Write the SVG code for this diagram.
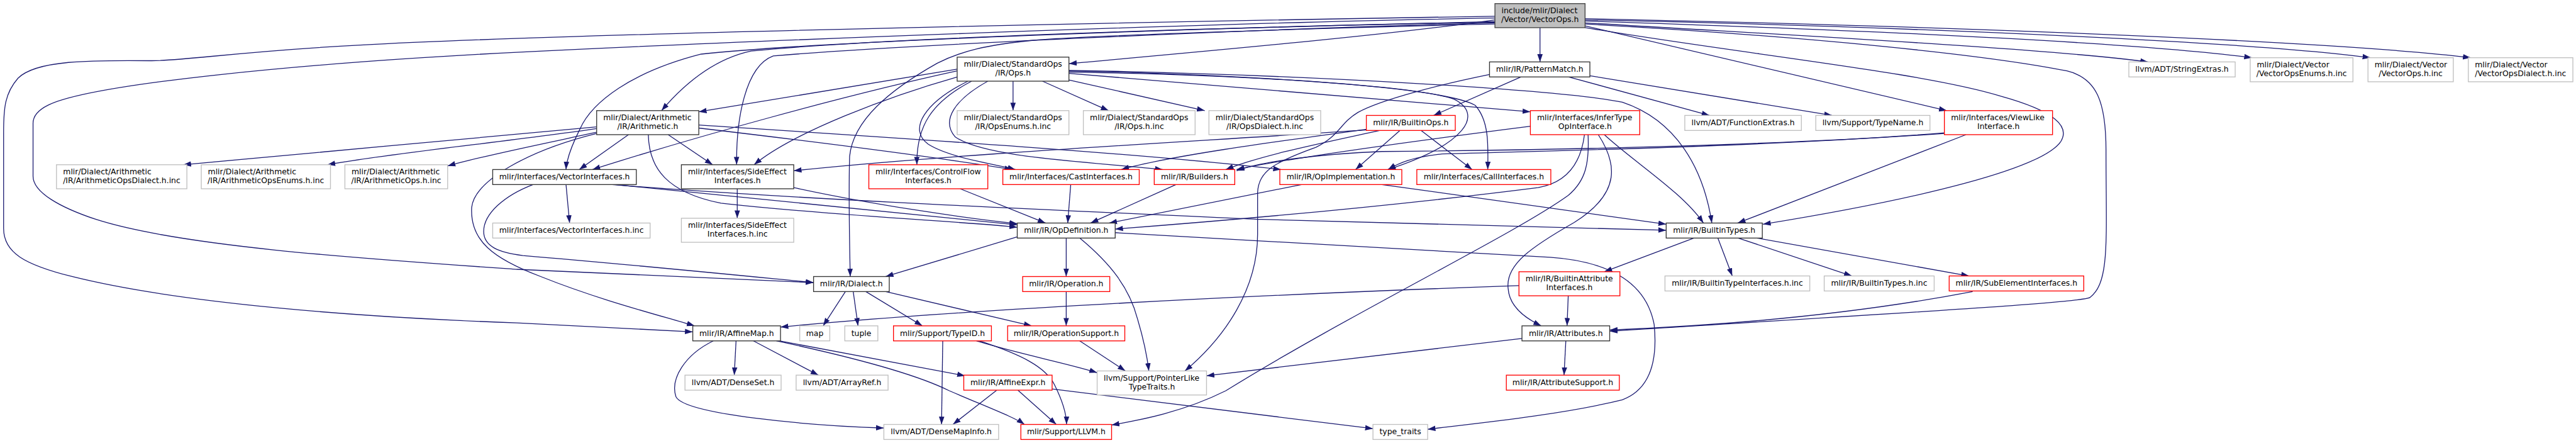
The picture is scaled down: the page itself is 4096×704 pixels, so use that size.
<svg xmlns="http://www.w3.org/2000/svg" width="4096" height="704" viewBox="0 0 4096 704">
<defs>
<style>
.n rect{fill:#fff;stroke-width:1.4}
.k rect{stroke:#333}
.r rect{stroke:#ff0000}
.g rect{stroke:#bfbfbf}
.t rect{fill:#bfbfbf;stroke:#404040}
text{font-family:"DejaVu Sans","Liberation Sans",sans-serif;font-size:13px;fill:#000}
.m{text-anchor:middle}
#edges path{fill:none;stroke:#191970;stroke-width:1.35;marker-end:url(#a)}
</style>
<marker id="a" markerUnits="userSpaceOnUse" markerWidth="14" markerHeight="10" refX="13" refY="5" orient="auto"><path d="M0,0.5 L13,5 L0,9.5 z" fill="#191970"/></marker>
</defs>
<rect width="4096" height="704" fill="#fff"/>
<g transform="scale(0.9554)">
<g id="edges">
<path d="M2488,33 C2300,60 1950,90 1779,106"/>
<path d="M2563,46 L2563,103"/>
<path d="M2638,38 C3000,60 3400,80 3575,103"/>
<path d="M2638,35 C3100,50 3550,70 3748,96"/>
<path d="M2638,33 C3200,45 3750,70 3945,96"/>
<path d="M2638,31 C3300,45 3900,70 4112,96"/>
<path d="M2638,43 L3240,184"/>
<path d="M2638,40 C3000,60 3300,90 3440,118 C3490,130 3505,170 3505,250 C3505,400 3512,470 3478,495 C3460,505 3000,530 2679,551"/>
<path d="M2638,46 C2900,90 3200,120 3330,160 C3420,185 3445,210 3430,235 C3400,280 3200,330 2934,373"/>
<path d="M2488,36 C2100,45 1500,60 1250,85 C1180,100 1130,150 1101,184"/>
<path d="M2488,37 C2000,45 1350,70 1167,90 C1050,120 985,170 965,215 C950,245 943,265 942,282"/>
<path d="M2488,38 C2100,48 1500,75 1287,93 C1240,110 1225,200 1226,274"/>
<path d="M2488,27 C1800,38 900,58 600,75 C400,85 300,102 250,101 C150,100 60,100 30,130 C8,155 6,180 6,220 L6,380 C6,420 40,440 120,460 C300,505 600,528 860,537 L1153,552"/>
<path d="M2488,30 C2000,38 1200,70 860,87 C500,105 150,140 80,175 C60,185 55,195 55,205 L55,293 C55,320 100,345 160,365 C300,410 600,430 860,448 L1354,470"/>
<path d="M2488,40 C2150,48 1800,60 1720,67 C1640,75 1600,85 1560,105 C1480,150 1420,200 1414,260 C1412,330 1414,400 1415,460"/>
<path d="M1593,115 L1163,186"/>
<path d="M1593,118 C1400,160 1150,230 986,282"/>
<path d="M1593,128 C1480,160 1320,220 1255,274"/>
<path d="M1617,135 C1550,170 1525,210 1526,274"/>
<path d="M1611,135 C1540,170 1510,215 1545,240 C1580,262 1650,272 1690,282"/>
<path d="M1644,135 C1590,165 1565,200 1590,228 C1640,262 1800,268 1935,282"/>
<path d="M1686,135 L1686,184"/>
<path d="M1735,135 L1845,184"/>
<path d="M1779,133 L2005,184"/>
<path d="M1779,118 C2000,122 2350,140 2420,165 C2470,190 2440,240 2310,282"/>
<path d="M1779,120 C2100,125 2400,145 2455,175 C2478,200 2477,240 2476,282"/>
<path d="M1779,122 L2547,186"/>
<path d="M1779,117 C2200,125 2600,150 2700,170 C2790,200 2835,280 2849,371"/>
<path d="M993,211 C800,230 500,255 305,274"/>
<path d="M993,214 C850,235 650,255 545,274"/>
<path d="M993,220 C900,240 800,260 745,276"/>
<path d="M1046,224 L964,282"/>
<path d="M1112,224 L1186,274"/>
<path d="M1163,213 C1350,235 1550,260 1685,282"/>
<path d="M1163,208 C1500,230 1900,255 2132,282"/>
<path d="M1079,224 C1080,280 1110,320 1200,338 C1400,360 1600,368 1693,378"/>
<path d="M993,222 C880,250 790,300 785,345 C782,400 820,430 900,460 C1000,500 1100,525 1156,542"/>
<path d="M942,307 L948,371"/>
<path d="M887,307 C840,325 805,355 805,385 C805,410 830,420 870,425 C1050,440 1250,460 1354,470"/>
<path d="M1024,307 C1300,335 1550,360 1693,374"/>
<path d="M1019,307 C1300,330 1720,348 2100,365 C2400,374 2600,378 2773,383"/>
<path d="M1227,314 L1227,363"/>
<path d="M1321,312 C1450,340 1600,362 1693,372"/>
<path d="M1598,314 L1740,371"/>
<path d="M1782,307 L1777,371"/>
<path d="M1957,307 L1815,371"/>
<path d="M2166,307 L1846,371"/>
<path d="M2300,307 L2773,373"/>
<path d="M2330,217 L2256,282"/>
<path d="M2365,217 L2450,282"/>
<path d="M2275,215 C2150,232 1950,258 1866,282"/>
<path d="M2275,216 C2000,235 1600,255 1321,284"/>
<path d="M2296,217 C2200,238 2100,258 2040,282"/>
<path d="M2531,128 L2386,192"/>
<path d="M2611,128 L2845,192"/>
<path d="M2646,126 L3049,192"/>
<path d="M2479,124 C2400,140 2300,165 2260,187 C2230,205 2230,225 2190,245 C2120,270 2095,285 2093,320 L2093,390 C2093,480 2040,560 1972,617"/>
<path d="M2547,210 C2350,235 2150,262 2058,282"/>
<path d="M2637,224 C2630,280 2600,305 2560,312 C2300,345 2000,370 1856,381"/>
<path d="M2643,224 C2645,270 2640,300 2610,325 C2520,390 2250,520 2040,650 C1970,685 1900,698 1850,707"/>
<path d="M2660,224 C2690,270 2700,320 2620,370 C2550,410 2505,440 2510,480 C2512,510 2540,530 2565,542"/>
<path d="M2670,224 C2720,270 2800,320 2835,371"/>
<path d="M3236,221 C3000,240 2600,250 2300,252 C2200,256 2100,268 2058,284"/>
<path d="M3236,222 C2900,245 2600,250 2400,256 C2350,262 2330,270 2310,282"/>
<path d="M3272,224 L2892,371"/>
<path d="M2819,396 L2670,452"/>
<path d="M2859,396 L2883,459"/>
<path d="M2893,396 L3082,459"/>
<path d="M2924,396 L3277,459"/>
<path d="M2610,492 L2608,542"/>
<path d="M2528,475 C2100,490 1600,515 1299,544"/>
<path d="M3283,485 C3100,520 2900,540 2679,549"/>
<path d="M2606,567 L2603,624"/>
<path d="M2533,563 L2008,625"/>
<path d="M1774.5,396 L1774.5,460"/>
<path d="M1693,394 L1474,460"/>
<path d="M1797,396 C1850,440 1880,480 1893,530 C1905,570 1910,600 1912,617"/>
<path d="M1856,387 C2150,405 2450,420 2580,428 C2680,435 2740,470 2753,540 C2760,610 2740,650 2700,665 C2600,690 2450,705 2376,714"/>
<path d="M1774.5,485 L1774.5,542"/>
<path d="M1407,485 L1370,542"/>
<path d="M1420,485 L1428,542"/>
<path d="M1441,485 L1535,542"/>
<path d="M1474,485 L1717,542"/>
<path d="M1225,567 L1222,624"/>
<path d="M1254,567 L1362,624"/>
<path d="M1297,567 L1606,625"/>
<path d="M1187,567 C1140,590 1115,630 1125,660 C1140,690 1350,708 1471,712"/>
<path d="M1292,567 C1400,590 1520,620 1580,650 C1650,680 1690,695 1705,706"/>
<path d="M1569,567 L1567,706"/>
<path d="M1625,567 C1700,590 1780,605 1826,620"/>
<path d="M1630,567 C1700,590 1740,610 1755,640 C1770,670 1775,690 1775,706"/>
<path d="M1659,649 L1586,706"/>
<path d="M1694,649 L1758,706"/>
<path d="M1751,647 L2285,713"/>
<path d="M1797,567 L1873,617"/>
</g>
<g id="n_top" class="n t"><rect x="2488" y="6" width="150" height="40"/><text x="2499" y="22">include/mlir/Dialect</text><text class="m" x="2563" y="36.5">/Vector/VectorOps.h</text></g>
<g id="n_ops" class="n k"><rect x="1593" y="95" width="186" height="40"/><text x="1604" y="111">mlir/Dialect/StandardOps</text><text class="m" x="1686" y="125.5">/IR/Ops.h</text></g>
<g id="n_pattern" class="n k"><rect x="2479" y="103" width="167" height="25"/><text class="m" x="2562.5" y="119.5">mlir/IR/PatternMatch.h</text></g>
<g id="n_stringextras" class="n g"><rect x="3543" y="103" width="177" height="25"/><text class="m" x="3631.5" y="119.5">llvm/ADT/StringExtras.h</text></g>
<g id="n_vecenums" class="n g"><rect x="3745" y="96" width="171" height="40"/><text x="3756" y="112">mlir/Dialect/Vector</text><text class="m" x="3830.5" y="126.5">/VectorOpsEnums.h.inc</text></g>
<g id="n_vecopsinc" class="n g"><rect x="3941" y="96" width="142" height="40"/><text x="3952" y="112">mlir/Dialect/Vector</text><text class="m" x="4012" y="126.5">/VectorOps.h.inc</text></g>
<g id="n_vecdialect" class="n g"><rect x="4108" y="96" width="174" height="40"/><text x="4119" y="112">mlir/Dialect/Vector</text><text class="m" x="4195" y="126.5">/VectorOpsDialect.h.inc</text></g>
<g id="n_arith" class="n k"><rect x="993" y="184" width="170" height="40"/><text x="1004" y="200">mlir/Dialect/Arithmetic</text><text class="m" x="1078" y="214.5">/IR/Arithmetic.h</text></g>
<g id="n_opsenums" class="n g"><rect x="1593" y="184" width="186" height="40"/><text x="1604" y="200">mlir/Dialect/StandardOps</text><text class="m" x="1686" y="214.5">/IR/OpsEnums.h.inc</text></g>
<g id="n_opsinc" class="n g"><rect x="1803" y="184" width="186" height="40"/><text x="1814" y="200">mlir/Dialect/StandardOps</text><text class="m" x="1896" y="214.5">/IR/Ops.h.inc</text></g>
<g id="n_opsdialect" class="n g"><rect x="2012" y="184" width="186" height="40"/><text x="2023" y="200">mlir/Dialect/StandardOps</text><text class="m" x="2105" y="214.5">/IR/OpsDialect.h.inc</text></g>
<g id="n_builtinops" class="n r"><rect x="2274" y="192" width="148" height="25"/><text class="m" x="2348" y="208.5">mlir/IR/BuiltinOps.h</text></g>
<g id="n_infer" class="n r"><rect x="2547" y="184" width="182" height="40"/><text x="2558" y="200">mlir/Interfaces/InferType</text><text class="m" x="2638" y="214.5">OpInterface.h</text></g>
<g id="n_funcextras" class="n g"><rect x="2804" y="192" width="194" height="25"/><text class="m" x="2901" y="208.5">llvm/ADT/FunctionExtras.h</text></g>
<g id="n_typename" class="n g"><rect x="3022" y="192" width="190" height="25"/><text class="m" x="3117" y="208.5">llvm/Support/TypeName.h</text></g>
<g id="n_viewlike" class="n r"><rect x="3236" y="184" width="180" height="40"/><text x="3247" y="200">mlir/Interfaces/ViewLike</text><text class="m" x="3326" y="214.5">Interface.h</text></g>
<g id="n_arithdialectinc" class="n g"><rect x="94" y="274" width="217" height="40"/><text x="105" y="290">mlir/Dialect/Arithmetic</text><text class="m" x="202.5" y="304.5">/IR/ArithmeticOpsDialect.h.inc</text></g>
<g id="n_arithenumsinc" class="n g"><rect x="335" y="274" width="215" height="40"/><text x="346" y="290">mlir/Dialect/Arithmetic</text><text class="m" x="442.5" y="304.5">/IR/ArithmeticOpsEnums.h.inc</text></g>
<g id="n_arithopsinc" class="n g"><rect x="574" y="274" width="171" height="40"/><text x="585" y="290">mlir/Dialect/Arithmetic</text><text class="m" x="659.5" y="304.5">/IR/ArithmeticOps.h.inc</text></g>
<g id="n_vecif" class="n k"><rect x="820" y="282" width="239" height="25"/><text class="m" x="939.5" y="298.5">mlir/Interfaces/VectorInterfaces.h</text></g>
<g id="n_sideeffect" class="n k"><rect x="1134" y="274" width="187" height="40"/><text x="1145" y="290">mlir/Interfaces/SideEffect</text><text class="m" x="1227.5" y="304.5">Interfaces.h</text></g>
<g id="n_controlflow" class="n r"><rect x="1446" y="274" width="198" height="40"/><text x="1457" y="290">mlir/Interfaces/ControlFlow</text><text class="m" x="1545" y="304.5">Interfaces.h</text></g>
<g id="n_cast" class="n r"><rect x="1669" y="282" width="227" height="25"/><text class="m" x="1782.5" y="298.5">mlir/Interfaces/CastInterfaces.h</text></g>
<g id="n_builders" class="n r"><rect x="1921" y="282" width="134" height="25"/><text class="m" x="1988" y="298.5">mlir/IR/Builders.h</text></g>
<g id="n_opimpl" class="n r"><rect x="2130" y="282" width="203" height="25"/><text class="m" x="2231.5" y="298.5">mlir/IR/OpImplementation.h</text></g>
<g id="n_call" class="n r"><rect x="2358" y="282" width="223" height="25"/><text class="m" x="2469.5" y="298.5">mlir/Interfaces/CallInterfaces.h</text></g>
<g id="n_vecifinc" class="n g"><rect x="820" y="371" width="262" height="25"/><text class="m" x="951" y="387.5">mlir/Interfaces/VectorInterfaces.h.inc</text></g>
<g id="n_sideeffectinc" class="n g"><rect x="1134" y="363" width="187" height="40"/><text x="1145" y="379">mlir/Interfaces/SideEffect</text><text class="m" x="1227.5" y="393.5">Interfaces.h.inc</text></g>
<g id="n_opdef" class="n k"><rect x="1693" y="371" width="163" height="25"/><text class="m" x="1774.5" y="387.5">mlir/IR/OpDefinition.h</text></g>
<g id="n_builtintypes" class="n k"><rect x="2773" y="371" width="160" height="25"/><text class="m" x="2853" y="387.5">mlir/IR/BuiltinTypes.h</text></g>
<g id="n_dialect" class="n k"><rect x="1354" y="460" width="126" height="25"/><text class="m" x="1417" y="476.5">mlir/IR/Dialect.h</text></g>
<g id="n_operation" class="n r"><rect x="1702" y="460" width="145" height="25"/><text class="m" x="1774.5" y="476.5">mlir/IR/Operation.h</text></g>
<g id="n_battrif" class="n r"><rect x="2528" y="452" width="168" height="40"/><text x="2539" y="468">mlir/IR/BuiltinAttribute</text><text class="m" x="2612" y="482.5">Interfaces.h</text></g>
<g id="n_btifinc" class="n g"><rect x="2771" y="459" width="241" height="25"/><text class="m" x="2891.5" y="475.5">mlir/IR/BuiltinTypeInterfaces.h.inc</text></g>
<g id="n_btinc" class="n g"><rect x="3036" y="459" width="183" height="25"/><text class="m" x="3127.5" y="475.5">mlir/IR/BuiltinTypes.h.inc</text></g>
<g id="n_subelem" class="n r"><rect x="3244" y="459" width="224" height="25"/><text class="m" x="3356" y="475.5">mlir/IR/SubElementInterfaces.h</text></g>
<g id="n_affinemap" class="n k"><rect x="1153" y="542" width="146" height="25"/><text class="m" x="1226" y="558.5">mlir/IR/AffineMap.h</text></g>
<g id="n_map" class="n g"><rect x="1331" y="542" width="50" height="25"/><text class="m" x="1356" y="558.5">map</text></g>
<g id="n_tuple" class="n g"><rect x="1406" y="542" width="55" height="25"/><text class="m" x="1433.5" y="558.5">tuple</text></g>
<g id="n_typeid" class="n r"><rect x="1487" y="542" width="163" height="25"/><text class="m" x="1568.5" y="558.5">mlir/Support/TypeID.h</text></g>
<g id="n_opsupport" class="n r"><rect x="1677" y="542" width="195" height="25"/><text class="m" x="1774.5" y="558.5">mlir/IR/OperationSupport.h</text></g>
<g id="n_attributes" class="n k"><rect x="2533" y="542" width="146" height="25"/><text class="m" x="2606" y="558.5">mlir/IR/Attributes.h</text></g>
<g id="n_denseset" class="n g"><rect x="1140" y="624" width="160" height="25"/><text class="m" x="1220" y="640.5">llvm/ADT/DenseSet.h</text></g>
<g id="n_arrayref" class="n g"><rect x="1325" y="624" width="153" height="25"/><text class="m" x="1401.5" y="640.5">llvm/ADT/ArrayRef.h</text></g>
<g id="n_affineexpr" class="n r"><rect x="1604" y="624" width="147" height="25"/><text class="m" x="1677.5" y="640.5">mlir/IR/AffineExpr.h</text></g>
<g id="n_pointerlike" class="n g"><rect x="1826" y="617" width="182" height="40"/><text x="1837" y="633">llvm/Support/PointerLike</text><text class="m" x="1917" y="647.5">TypeTraits.h</text></g>
<g id="n_attrsupport" class="n r"><rect x="2507" y="624" width="188" height="25"/><text class="m" x="2601" y="640.5">mlir/IR/AttributeSupport.h</text></g>
<g id="n_densemapinfo" class="n g"><rect x="1471" y="706" width="191" height="25"/><text class="m" x="1566.5" y="722.5">llvm/ADT/DenseMapInfo.h</text></g>
<g id="n_llvm" class="n r"><rect x="1699" y="706" width="151" height="25"/><text class="m" x="1774.5" y="722.5">mlir/Support/LLVM.h</text></g>
<g id="n_typetraits" class="n g"><rect x="2285" y="706" width="91" height="25"/><text class="m" x="2330.5" y="722.5">type_traits</text></g>
</g>
</svg>
